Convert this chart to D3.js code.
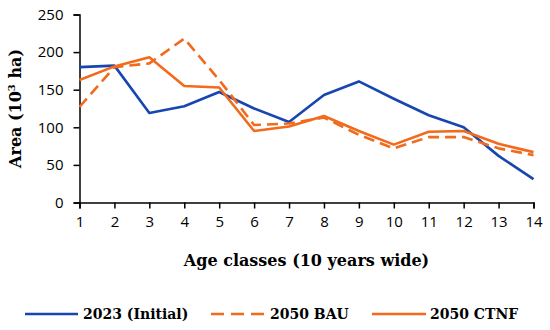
<!DOCTYPE html>
<html><head><meta charset="utf-8">
<script src="https://cdn.jsdelivr.net/npm/d3@7"></script>
<style>body{margin:0;background:#fff}svg{display:block}</style>
</head><body>
<svg id="c" width="550" height="330"></svg>
<script>
const classes = [1,2,3,4,5,6,7,8,9,10,11,12,13,14];
const initial2023 = [180,182,119,128,147,125,107,143,161,138,116,100,62,31];
const bau2050 = [127,180,185,218,163,103,105,113,90,72,87,87,72,63];
const ctnf2050 = [163,181,193,155,153,95,101,115,95,77,94,95,78,67];
const yTicks = [0,50,100,150,200,250];
const seriesNames = ["2023 (Initial)","2050 BAU","2050 CTNF"];

const BLUE = "#1746b0", ORANGE = "#f26a1b";
const svg = d3.select("#c");
const x = d3.scaleLinear().domain([1,14]).range([79.5,533.5]);
const y = d3.scaleLinear().domain([0,250]).range([202.5,14.5]);

const gx = svg.append("g").attr("transform","translate(0,"+y(0)+")")
  .call(d3.axisBottom(x).tickValues(classes).tickFormat(d3.format("d")).tickSize(6).tickPadding(8));
const gy = svg.append("g").attr("transform","translate("+x(1)+",0)")
  .call(d3.axisLeft(y).tickValues(yTicks).tickSize(6).tickPadding(10));
[gx,gy].forEach(g=>{
  g.select(".domain").attr("stroke","#000").attr("stroke-width",1.5);
  g.selectAll(".tick line").attr("stroke","#000").attr("stroke-width",1.5);
  g.selectAll("text").attr("fill","#000").style("font-family","'Open Sans'").style("font-size","15px");
});

const line = d3.line().x((d,i)=>x(classes[i])).y(d=>y(d));
const series = [
  {v:initial2023,c:BLUE,dash:null},
  {v:bau2050,c:ORANGE,dash:"11,6"},
  {v:ctnf2050,c:ORANGE,dash:null}
];
series.forEach(s=>{
  svg.append("path").datum(s.v).attr("d",line).attr("fill","none")
    .attr("stroke",s.c).attr("stroke-width",2.6).attr("stroke-linejoin","round")
    .attr("stroke-dasharray",s.dash);
});

svg.append("text").attr("x",(x(1)+x(14))/2).attr("y",266).attr("text-anchor","middle")
  .style("font-family","'DejaVu Serif'").style("font-weight","bold").style("font-size","16px")
  .text("Age classes (10 years wide)");
const yt = svg.append("text").attr("transform","translate(21,"+((y(0)+y(250))/2)+") rotate(-90)")
  .attr("text-anchor","middle")
  .style("font-family","'DejaVu Serif'").style("font-weight","bold").style("font-size","16px");
yt.append("tspan").text("Area (10");
yt.append("tspan").attr("dy",-6).style("font-size","10px").text("3");
yt.append("tspan").attr("dy",6).text(" ha)");

const legX = [[25,78,83],[211,265,270],[372,426,430]];
series.forEach((s,i)=>{
  const ly = 314;
  svg.append("line").attr("x1",legX[i][0]).attr("x2",legX[i][1]).attr("y1",ly).attr("y2",ly)
    .attr("stroke",s.c).attr("stroke-width",2.6).attr("stroke-dasharray",s.dash?"13,7":null);
  svg.append("text").attr("x",legX[i][2]).attr("y",ly+5)
    .style("font-family","'DejaVu Serif'").style("font-weight","bold").style("font-size","14px")
    .text(seriesNames[i]);
});
</script>
</body></html>
